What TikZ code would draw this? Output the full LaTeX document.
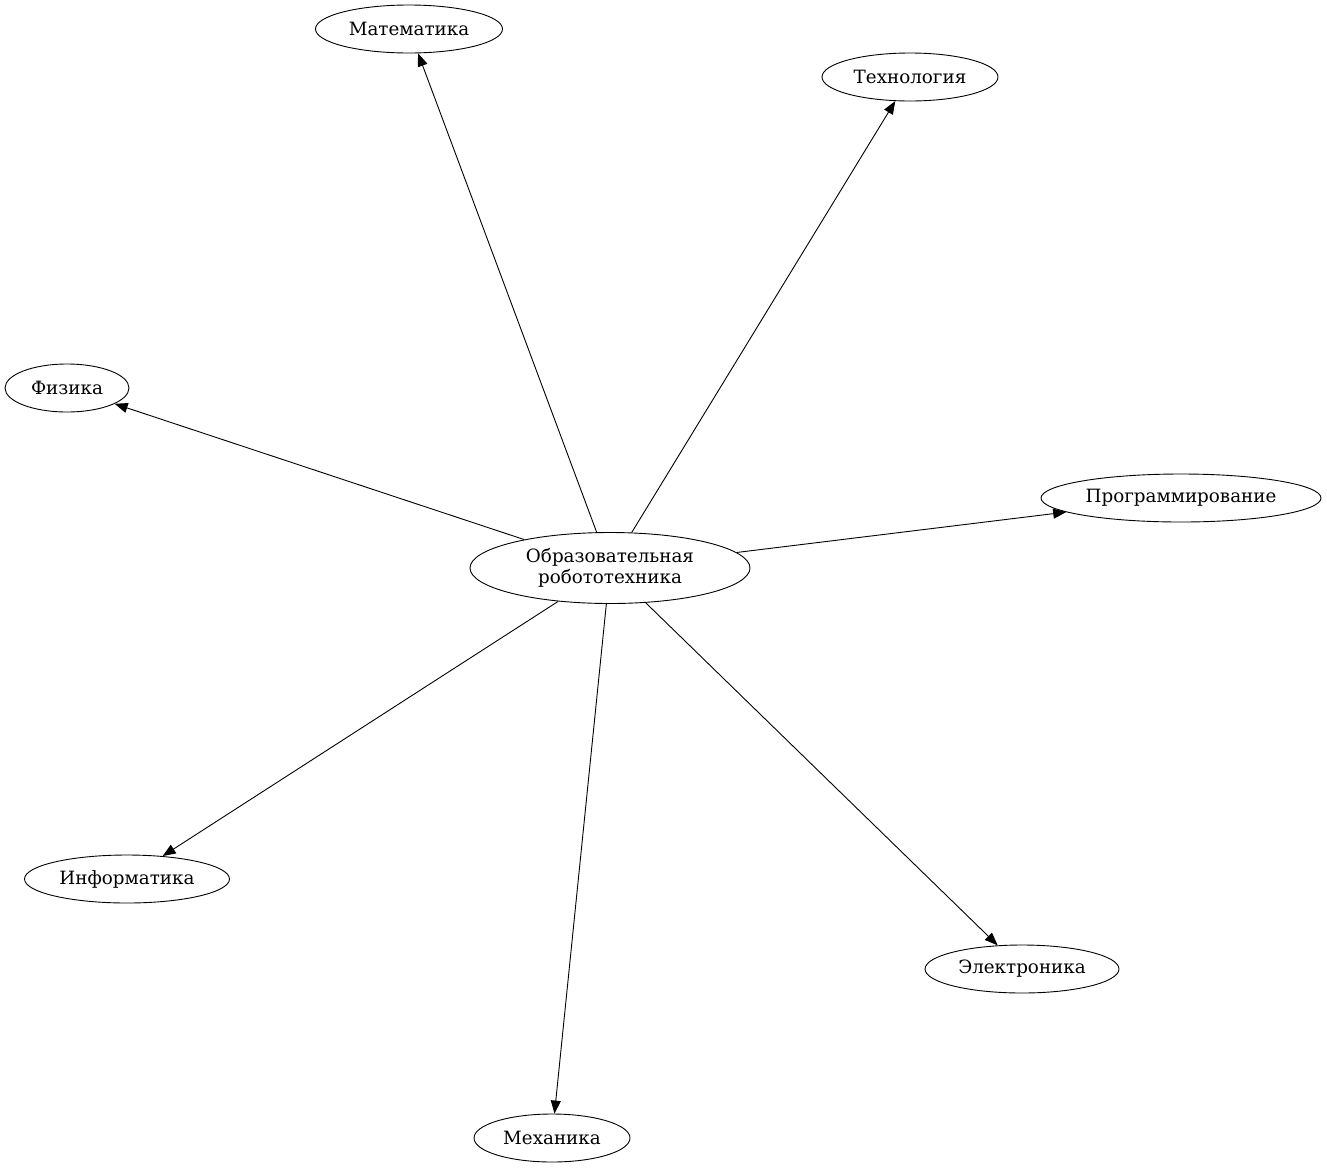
\documentclass[tikz,border=0pt]{standalone}
\usepackage{fontspec}
\setmainfont{DejaVu Serif}
\usetikzlibrary{shapes.geometric,arrows.meta}
\begin{document}
\begin{tikzpicture}[x=1pt, y=-1pt, line width=0.9pt,
  subj/.style={draw, ellipse, inner sep=0pt, minimum height=48pt,
    font=\fontsize{18.3}{21.5}\selectfont},
  >={Triangle[length=13pt,width=10pt]}]
\useasboundingbox (0,0) rectangle (1327,1168);
\node[subj, minimum width=280pt, minimum height=71pt, align=center] (R) at (610,568) {Образовательная\\робототехника};
\node[subj, minimum width=187pt] (M) at (409,29)   {Математика};
\node[subj, minimum width=176pt] (T) at (910,77)   {Технология};
\node[subj, minimum width=124pt] (F) at (67,388)   {Физика};
\node[subj, minimum width=280pt] (P) at (1181,498) {Программирование};
\node[subj, minimum width=205pt] (I) at (127,879)  {Информатика};
\node[subj, minimum width=194pt] (E) at (1022,969) {Электроника};
\node[subj, minimum width=156pt] (K) at (552,1138) {Механика};

\draw[->] (R) -- (M);
\draw[->] (R) -- (T);
\draw[->] (R) -- (F);
\draw[->] (R) -- (P);
\draw[->] (R) -- (I);
\draw[->] (R) -- (E);
\draw[->] (R) -- (K);
\end{tikzpicture}
\end{document}
